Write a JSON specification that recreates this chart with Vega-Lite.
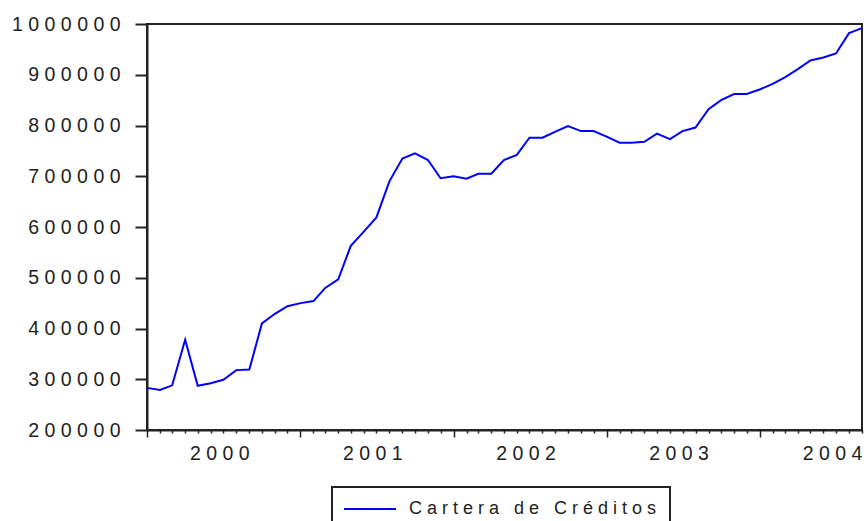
{
  "$schema": "https://vega.github.io/schema/vega-lite/v6.json",
  "width": 715,
  "height": 406,
  "autosize": {"type": "none"},
  "padding": {"left": 147, "top": 24, "right": 4, "bottom": 91},
  "background": "white",
  "config": {
    "view": {"stroke": "#222", "strokeWidth": 2},
    "font": "Liberation Sans",
    "legend": {"strokeWidth": 2}
  },
  "data": {
    "values": [
      {"fecha": "2000-01-01T00:00", "valor": 283000},
      {"fecha": "2000-02-01T00:00", "valor": 279000},
      {"fecha": "2000-03-01T00:00", "valor": 288000},
      {"fecha": "2000-04-01T00:00", "valor": 378000},
      {"fecha": "2000-05-01T00:00", "valor": 287000},
      {"fecha": "2000-06-01T00:00", "valor": 292000},
      {"fecha": "2000-07-01T00:00", "valor": 299000},
      {"fecha": "2000-08-01T00:00", "valor": 318000},
      {"fecha": "2000-09-01T00:00", "valor": 319000},
      {"fecha": "2000-10-01T00:00", "valor": 410000},
      {"fecha": "2000-11-01T00:00", "valor": 429000},
      {"fecha": "2000-12-01T00:00", "valor": 444000},
      {"fecha": "2001-01-01T00:00", "valor": 450000},
      {"fecha": "2001-02-01T00:00", "valor": 454000},
      {"fecha": "2001-03-01T00:00", "valor": 480000},
      {"fecha": "2001-04-01T00:00", "valor": 497000},
      {"fecha": "2001-05-01T00:00", "valor": 563000},
      {"fecha": "2001-06-01T00:00", "valor": 591000},
      {"fecha": "2001-07-01T00:00", "valor": 619000},
      {"fecha": "2001-08-01T00:00", "valor": 690000},
      {"fecha": "2001-09-01T00:00", "valor": 735000},
      {"fecha": "2001-10-01T00:00", "valor": 745000},
      {"fecha": "2001-11-01T00:00", "valor": 732000},
      {"fecha": "2001-12-01T00:00", "valor": 696000},
      {"fecha": "2002-01-01T00:00", "valor": 700000},
      {"fecha": "2002-02-01T00:00", "valor": 695000},
      {"fecha": "2002-03-01T00:00", "valor": 705000},
      {"fecha": "2002-04-01T00:00", "valor": 705000},
      {"fecha": "2002-05-01T00:00", "valor": 732000},
      {"fecha": "2002-06-01T00:00", "valor": 742000},
      {"fecha": "2002-07-01T00:00", "valor": 776000},
      {"fecha": "2002-08-01T00:00", "valor": 776000},
      {"fecha": "2002-09-01T00:00", "valor": 788000},
      {"fecha": "2002-10-01T00:00", "valor": 799000},
      {"fecha": "2002-11-01T00:00", "valor": 789000},
      {"fecha": "2002-12-01T00:00", "valor": 789000},
      {"fecha": "2003-01-01T00:00", "valor": 778000},
      {"fecha": "2003-02-01T00:00", "valor": 766000},
      {"fecha": "2003-03-01T00:00", "valor": 766000},
      {"fecha": "2003-04-01T00:00", "valor": 768000},
      {"fecha": "2003-05-01T00:00", "valor": 784000},
      {"fecha": "2003-06-01T00:00", "valor": 773000},
      {"fecha": "2003-07-01T00:00", "valor": 789000},
      {"fecha": "2003-08-01T00:00", "valor": 796000},
      {"fecha": "2003-09-01T00:00", "valor": 832000},
      {"fecha": "2003-10-01T00:00", "valor": 850000},
      {"fecha": "2003-11-01T00:00", "valor": 862000},
      {"fecha": "2003-12-01T00:00", "valor": 862000},
      {"fecha": "2004-01-01T00:00", "valor": 871000},
      {"fecha": "2004-02-01T00:00", "valor": 882000},
      {"fecha": "2004-03-01T00:00", "valor": 895000},
      {"fecha": "2004-04-01T00:00", "valor": 911000},
      {"fecha": "2004-05-01T00:00", "valor": 928000},
      {"fecha": "2004-06-01T00:00", "valor": 934000},
      {"fecha": "2004-07-01T00:00", "valor": 942000},
      {"fecha": "2004-08-01T00:00", "valor": 982000},
      {"fecha": "2004-09-01T00:00", "valor": 992000}
    ]
  },
  "mark": {"type": "line", "strokeWidth": 2, "interpolate": "linear"},
  "encoding": {
    "x": {
      "field": "fecha",
      "type": "temporal",
      "title": null,
      "scale": {"domain": ["2000-01-01T00:00", "2004-09-01T00:00"], "nice": false},
      "axis": {
        "grid": false,
        "domain": true,
        "domainColor": "#222",
        "domainWidth": 2,
        "tickCount": {"interval": "month", "step": 1},
        "tickColor": "#222",
        "tickWidth": 1.5,
        "tickSize": {"condition": {"test": "month(datum.value) == 0", "value": 7}, "value": 3},
        "labelExpr": "month(datum.value) == 6 ? join(split(timeFormat(datum.value, '%Y'), ''), '\u00a0') : ''",
        "labelOverlap": false,
        "labelFlush": false,
        "labelBound": false,
        "labelFont": "Liberation Sans",
        "labelFontSize": 19.5,
        "labelColor": "#222",
        "labelPadding": 11,
        "labelOffset": -4,
        "labelAlign": "center",
        "labelBaseline": "top"
      }
    },
    "y": {
      "field": "valor",
      "type": "quantitative",
      "title": null,
      "scale": {"domain": [200000, 1000000], "nice": false, "zero": false},
      "axis": {
        "grid": false,
        "domain": true,
        "domainColor": "#222",
        "domainWidth": 2,
        "values": [200000, 300000, 400000, 500000, 600000, 700000, 800000, 900000, 1000000],
        "format": "d",
        "tickColor": "#222",
        "tickWidth": 2,
        "tickSize": 12,
        "labelExpr": "join(split(datum.label, ''), '\u00a0')",
        "labelFont": "Liberation Sans",
        "labelFontSize": 19.5,
        "labelColor": "#222",
        "labelPadding": 15,
        "labelOverlap": false,
        "labelFlush": false,
        "labelBound": false
      }
    },
    "color": {
      "datum": "Cartera de Créditos",
      "scale": {"range": ["#0000ff"]},
      "legend": {
        "title": null,
        "orient": "none",
        "legendX": 185,
        "legendY": 463,
        "strokeColor": "#222",
        "fillColor": "white",
        "padding": 13,
        "symbolType": "M-5.2,0H5.2",
        "symbolSize": 100,
        "symbolStrokeWidth": 2,
        "symbolOffset": 16,
        "labelExpr": "join(split(datum.label, ''), '\u00a0')",
        "labelFont": "Liberation Sans",
        "labelFontSize": 18,
        "labelColor": "#222",
        "labelLimit": 600,
        "labelOffset": 30
      }
    }
  }
}
